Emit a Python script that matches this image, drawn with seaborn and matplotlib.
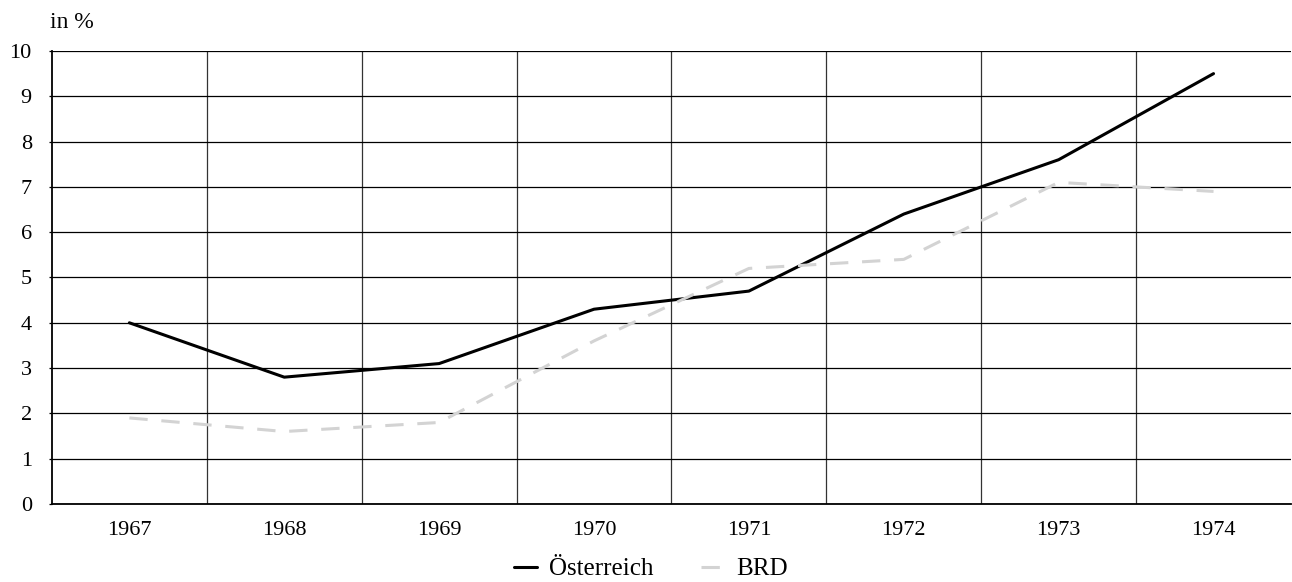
import pandas as pd
import seaborn as sns
import matplotlib.pyplot as plt
from matplotlib.ticker import FixedLocator

years = ["1967", "1968", "1969", "1970", "1971", "1972", "1973", "1974"]
oesterreich = [4.0, 2.8, 3.1, 4.3, 4.7, 6.4, 7.6, 9.5]
brd = [1.9, 1.6, 1.8, 3.6, 5.2, 5.4, 7.1, 6.9]

df = pd.DataFrame({
    "Jahr": years * 2,
    "Wert": oesterreich + brd,
    "Land": ["Österreich"] * len(years) + ["BRD"] * len(years),
})

sns.set_style("white")
plt.rcParams["font.family"] = ["Liberation Serif", "DejaVu Serif"]
plt.rcParams["text.color"] = "black"
plt.rcParams["xtick.color"] = "black"
plt.rcParams["ytick.color"] = "black"

fig = plt.figure(figsize=(12.92, 5.82), dpi=100)
ax = fig.add_axes([0.0402, 0.134, 0.959, 0.7784])

sns.lineplot(data=df, x="Jahr", y="Wert", hue="Land", style="Land",
             palette={"Österreich": "black", "BRD": "#d3d3d3"},
             dashes={"Österreich": "", "BRD": (6, 4.5)},
             linewidth=2.2, ax=ax, legend=True)

ax.set_xlim(-0.5, len(years) - 0.5)
ax.set_ylim(0, 10)
ax.set_yticks(range(0, 11))
ax.xaxis.set_minor_locator(FixedLocator([i + 0.5 for i in range(len(years) - 1)]))
ax.grid(axis="y", which="major", color="black", linewidth=0.9)
ax.grid(axis="x", which="minor", color="#333333", linewidth=0.9)
ax.grid(axis="x", which="major", visible=False)
ax.set_axisbelow(True)

for s in ["top", "right"]:
    ax.spines[s].set_visible(False)
for s in ["left", "bottom"]:
    ax.spines[s].set_color("black")
    ax.spines[s].set_linewidth(1.3)

ax.tick_params(axis="y", which="major", left=True, length=2.5, width=0.9,
               color="black", labelcolor="black", labelsize=16, pad=12)
ax.tick_params(axis="x", which="both", bottom=False, labelcolor="black",
               labelsize=16, pad=9)
ax.set_xlabel("")
ax.set_ylabel("")

fig.text(0.0387, 0.962, "in %", fontsize=17, ha="left", va="center",
         color="black")

handles, labels = ax.get_legend_handles_labels()
ax.get_legend().remove()
fig.legend(handles, labels, loc="center", bbox_to_anchor=(0.504, 0.022),
           ncol=2, frameon=False, fontsize=18, handlelength=0.9,
           handletextpad=0.5, columnspacing=1.9, labelcolor="black")

fig.savefig("out.png", dpi=100)
